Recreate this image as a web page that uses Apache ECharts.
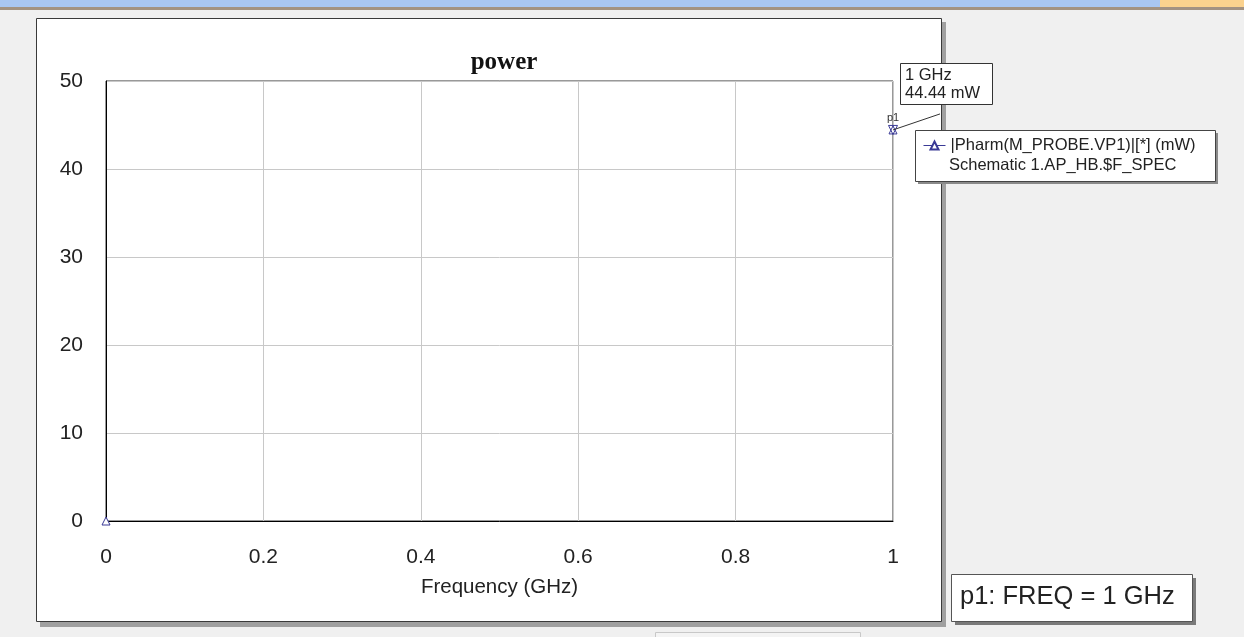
<!DOCTYPE html>
<html>
<head>
<meta charset="utf-8">
<script src="https://cdn.jsdelivr.net/npm/echarts@6/dist/echarts.min.js"></script>
<style>
  html, body { margin: 0; padding: 0; background: #f0f0f0; }
  #chart { width: 1244px; height: 637px; }
</style>
</head>
<body>
<div id="chart"></div>
<script>
// data
var freqGHz = [0, 1];
var powerMW = [0, 44.44];
var seriesName = '|Pharm(M_PROBE.VP1)|[*] (mW)';
var seriesSource = 'Schematic 1.AP_HB.$F_SPEC';
var markerName = 'p1';
var markerFreq = 1;
var markerPower = 44.44;
var markerReadout = ['1 GHz', '44.44 mW'];
var markerSummary = 'p1: FREQ = 1 GHz';

var navy = '#3a3a96';
var font = '"Liberation Sans", Arial, sans-serif';

var chart = echarts.init(document.getElementById('chart'));

var points = freqGHz.map(function (f, i) { return [f, powerMW[i]]; });

var option = {
    backgroundColor: '#f0f0f0',
    animation: false,
    title: {
        text: 'power',
        left: 499,
        textAlign: 'center',
        top: 45,
        textStyle: {
            fontFamily: '"Liberation Serif", "Times New Roman", serif',
            fontWeight: 'bold',
            fontSize: 25,
            color: '#111'
        }
    },
    legend: {
        data: [seriesName],
        left: 918,
        top: 132,
        itemWidth: 22,
        itemHeight: 10,
        itemGap: 4,
        textStyle: { fontFamily: font, fontSize: 16.5, color: '#222' },
        lineStyle: { opacity: 1, width: 1, color: navy },
        z: 20
    },
    grid: {
        left: 106,
        top: 81,
        width: 787,
        height: 440,
        show: true,
        backgroundColor: '#fff',
        borderColor: '#333',
        borderWidth: 1
    },
    xAxis: {
        type: 'value',
        min: 0,
        max: 1,
        interval: 0.2,
        name: 'Frequency (GHz)',
        nameLocation: 'middle',
        nameGap: 56,
        nameTextStyle: { fontFamily: font, fontSize: 20.5, color: '#222' },
        axisLine: { lineStyle: { color: '#000', width: 1 } },
        axisTick: { show: false },
        axisLabel: { fontFamily: font, fontSize: 21, color: '#222', margin: 26 },
        splitLine: { lineStyle: { color: '#c8c8c8', width: 1 } }
    },
    yAxis: {
        type: 'value',
        min: 0,
        max: 50,
        interval: 10,
        axisLine: { show: true, lineStyle: { color: '#000', width: 1 } },
        axisTick: { show: false },
        axisLabel: { fontFamily: font, fontSize: 21, color: '#222', margin: 23 },
        splitLine: { lineStyle: { color: '#c8c8c8', width: 1 } }
    },
    series: [{
        name: seriesName,
        type: 'line',
        data: points,
        symbol: 'triangle',
        symbolSize: 8,
        showSymbol: true,
        lineStyle: { opacity: 0 },
        itemStyle: { color: '#fff', borderColor: navy, borderWidth: 1 },
        markPoint: {
            symbol: 'triangle',
            symbolSize: 9,
            symbolRotate: 180,
            itemStyle: { color: 'rgba(0,0,0,0)', borderColor: navy, borderWidth: 1 },
            label: {
                show: true,
                position: 'top',
                distance: 1,
                formatter: markerName,
                fontFamily: font,
                fontSize: 11,
                color: '#333'
            },
            data: [{ coord: [markerFreq, markerPower] }]
        }
    }]
};

chart.setOption(option);

// marker readout box + leader line, placed from the marker's pixel position
var mp = chart.convertToPixel({ gridIndex: 0 }, [markerFreq, markerPower]);

chart.setOption({
    graphic: [
        // toolbar strip at the top of the window
        { type: 'rect', z: -20, shape: { x: 0, y: 0, width: 1244, height: 7 },
          style: { fill: '#a9c6f2' } },
        { type: 'rect', z: -19, shape: { x: 1160, y: 0, width: 84, height: 7 },
          style: { fill: '#fbd28e' } },
        { type: 'rect', z: -19, shape: { x: 0, y: 7, width: 1244, height: 3 },
          style: { fill: '#a39282' } },
        // white sheet with shadow
        { type: 'rect', z: -15, shape: { x: 40, y: 22, width: 906, height: 605 },
          style: { fill: '#a0a0a0' } },
        { type: 'rect', z: -14, shape: { x: 36.5, y: 18.5, width: 905, height: 603 },
          style: { fill: '#fff', stroke: '#3a3a3a', lineWidth: 1 } },
        // bottom status area
        { type: 'rect', z: -14, shape: { x: 655.5, y: 632.5, width: 205, height: 10 },
          style: { fill: '#f4f4f4', stroke: '#c8c8c8', lineWidth: 1 } },
        // leader line from marker to readout
        { type: 'line', z: 30, shape: { x1: mp[0], y1: mp[1], x2: mp[0] + 47, y2: mp[1] - 16 },
          style: { stroke: '#333', lineWidth: 1 } },
        // readout box
        { type: 'rect', z: 31, shape: { x: 900.5, y: 63.5, width: 92, height: 41 },
          style: { fill: '#fff', stroke: '#333', lineWidth: 1 } },
        { type: 'text', z: 32, x: 905, y: 66,
          style: { text: markerReadout.join('\n'), fontFamily: font, fontSize: 16.5, lineHeight: 18, fill: '#222' } },
        // legend box
        { type: 'rect', z: 9, shape: { x: 918, y: 133, width: 300, height: 51 },
          style: { fill: '#8a8a8a' } },
        { type: 'rect', z: 10, shape: { x: 915.5, y: 130.5, width: 300, height: 51 },
          style: { fill: '#fff', stroke: '#444', lineWidth: 1 } },
        { type: 'text', z: 21, x: 949, y: 157,
          style: { text: seriesSource, fontFamily: font, fontSize: 16.5, fill: '#222' } },
        // marker summary box
        { type: 'rect', z: 9, shape: { x: 955, y: 578, width: 241, height: 47 },
          style: { fill: '#7a7a7a' } },
        { type: 'rect', z: 10, shape: { x: 951.5, y: 574.5, width: 241, height: 47 },
          style: { fill: '#fff', stroke: '#555', lineWidth: 1 } },
        { type: 'text', z: 11, x: 960, y: 584,
          style: { text: markerSummary, fontFamily: font, fontSize: 25.5, fill: '#222' } }
    ]
});
</script>
</body>
</html>
